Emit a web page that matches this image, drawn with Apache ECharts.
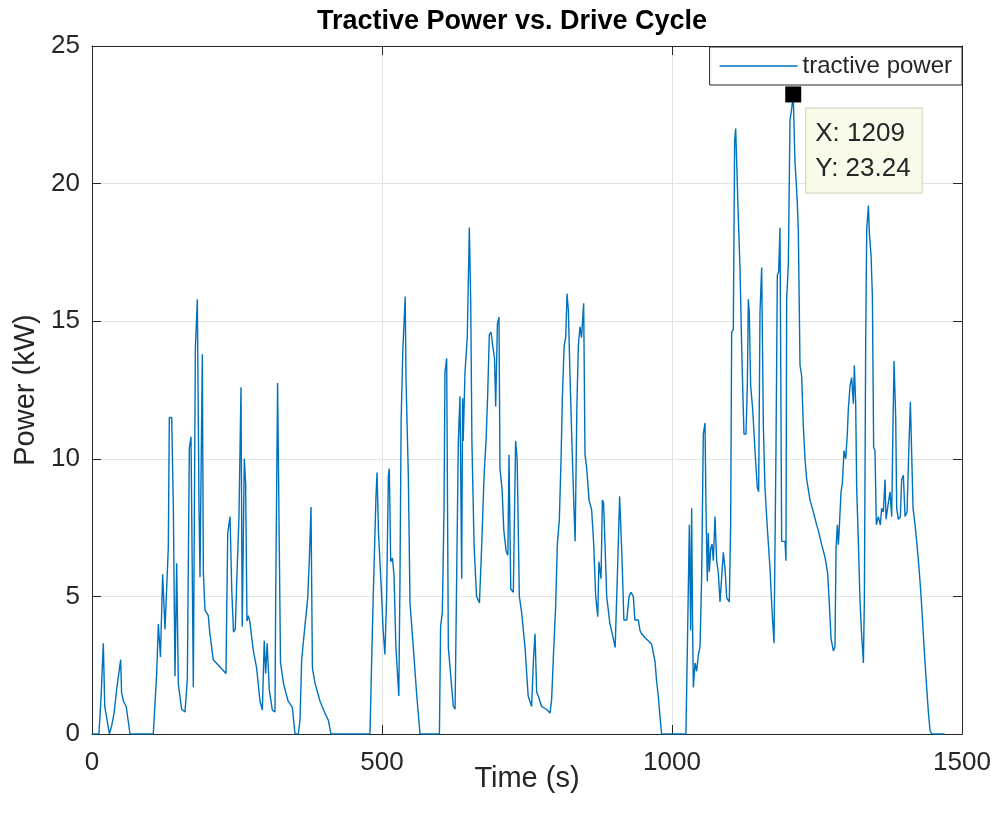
<!DOCTYPE html>
<html>
<head>
<meta charset="utf-8">
<title>Tractive Power vs. Drive Cycle</title>
<script src="https://cdn.jsdelivr.net/npm/echarts@6/dist/echarts.min.js"></script>
<style>
  html, body { margin: 0; padding: 0; background: #ffffff; }
  #chart { width: 995px; height: 818px; }
</style>
</head>
<body>
<div id="chart"></div>
<script>
// Drive-cycle time stamps (s) and the tractive power demand at each (kW)
const timeS = [
  0, 12, 16, 19.5, 22, 26, 30, 34, 38, 43, 49.4, 51, 54, 59, 65.5, 105.7,
  111.5, 114.4, 118, 121.8, 125.9, 131.6, 133.3, 137.4, 140.2, 143.1, 146, 148.9, 154.6, 160.3, 164.4, 167.8,
  170.7, 174.7, 178.2, 181.6, 184.5, 186.2, 190.2, 192, 194.8, 200.5, 203, 209, 218, 231, 234, 238,
  241, 244, 247, 249.5, 253.4, 256.9, 259, 262.6, 264.9, 267.2, 269.5, 272, 278, 283.8, 289.6, 293.7,
  297, 299.4, 302, 305.7, 310.9, 315.5, 316.7, 320, 323, 325, 330, 338, 345.4, 350, 355.7, 358.6,
  361.5, 367, 371.8, 375, 377.6, 380, 384.5, 393, 401.7, 407.5, 412,
  479.3, 482.2, 485, 489.6, 491.4, 494, 496.6, 499.4, 502, 505, 508, 511, 512.6, 515, 518, 520.7,
  524, 529, 531, 533, 536, 540, 541.4, 545.4, 548.3, 554, 560, 565.5,
  599, 601, 604, 606.9, 608.6, 611.5, 614.4, 618.4, 623, 626, 628.7, 631.6, 634.5, 637.4, 639, 640,
  643.1, 647, 650.6, 653, 655, 658.7, 663, 668, 672, 676, 679.4, 682.3, 685, 688, 691, 694,
  696, 699, 701.7, 703.4, 707, 710, 714, 717, 719, 722, 726.4, 730.4, 733, 736.8, 740.8, 746.6,
  752, 758, 761, 763.8, 766.7, 769.5, 775, 784, 789.7, 792.5, 795.4, 799.4, 802.3, 805.7, 808.6, 811,
  814, 816.7, 819, 821.3, 824, 827, 830.5, 833, 836, 838.5, 841.4, 844, 847.7, 850, 853, 857,
  861.5, 865, 868.4, 872, 874, 877.6, 880, 882, 884.5, 887.4, 893, 897, 902, 906.5, 909.7, 911.8,
  914, 917, 922, 926, 929.3, 933.3, 936, 942, 944.8, 947.7, 953.4, 959, 964.9, 970.7, 973.6, 976.4,
  979.3, 982,
  1024, 1026.4, 1029.9, 1032.2, 1033.9, 1035.6, 1036.8, 1039.7, 1042.5, 1045.4, 1048.3, 1051.1, 1054, 1056.9, 1058.6, 1060.9,
  1062.6, 1064.4, 1066.7, 1069, 1071.3, 1074.1, 1077, 1079.9, 1082.8, 1085.6, 1088.5, 1091.4, 1094.3, 1098.8, 1101.1, 1102.9,
  1105.7, 1108, 1109.8, 1111.5, 1114.4, 1117.2, 1120.1, 1121.8, 1124.1, 1127.6, 1129.9, 1131.6, 1133.3, 1135.6, 1139.1, 1143.1,
  1147.1, 1149.4, 1151.7, 1154.6, 1157.5, 1160.3, 1164.4, 1169, 1172.4, 1175.9, 1179.3, 1181.6, 1183.9, 1186.2, 1189.1, 1194.8,
  1196.5, 1197.7, 1200.6, 1203.4, 1206.3, 1209, 1212, 1214, 1216, 1217.8, 1220.7, 1223.6, 1226.4, 1229.3, 1232.2, 1238,
  1243.7, 1249.4, 1252.3, 1258, 1263.8, 1268.4, 1270.7, 1274.2, 1278.2, 1281, 1282.8, 1285.1, 1286.8, 1288, 1291.4, 1293.7,
  1296.6, 1299.5, 1302.3, 1304, 1307, 1309.8, 1312.7, 1314.4, 1316.7, 1318.4, 1321.3, 1324.2, 1327, 1330, 1331.7, 1334,
  1335.7, 1338.6, 1340.3, 1343.2, 1345.5, 1347.7, 1350, 1352.3, 1355.8, 1359.2, 1361.5, 1364.4, 1367.3, 1369, 1373, 1375.9,
  1378.8, 1381, 1382.8, 1385.7, 1387.4, 1390.3, 1393.7, 1396, 1398.9, 1401.8, 1405.2, 1408.7, 1411, 1413.3, 1415.6, 1419,
  1421.9, 1424.8, 1427.6, 1430.5, 1433.4, 1436.3, 1439.1, 1442, 1444.9, 1447.7, 1470
];

const powerKW = [
  0, 0, 1.5, 3.3, 1.0, 0.5, 0, 0.3, 0.75, 1.7, 2.7, 1.5, 1.2, 1.0, 0, 0,
  2.2, 4.0, 2.8, 5.8, 3.8, 6.8, 11.5, 11.5, 8.3, 2.1, 6.2, 1.8, 0.9, 0.8, 2.0, 10.4,
  10.8, 1.7, 14.0, 15.8, 8.3, 5.7, 13.8, 5.9, 4.5, 4.3, 3.7, 2.7, 2.5, 2.2, 7.3, 7.9,
  5.2, 3.7, 3.8, 5.5, 7.9, 12.6, 3.9, 10.0, 9.1, 4.1, 4.3, 4.1, 3.05, 2.4, 1.2, 0.87,
  3.4, 2.2, 3.3, 1.6, 0.87, 0.8, 4.9, 12.75, 12.8, 2.6, 1.85, 1.2, 0.97, 0, 0, 0.5,
  2.7, 3.9, 4.9, 6.5, 8.25, 2.4, 1.85, 1.2, 0.75, 0.5, 0,
  0, 2.7, 5.1, 8.6, 9.5, 7.3, 7.27, 5.0, 3.76, 2.89, 5.0, 9.39, 9.64, 6.26, 6.39, 5.77,
  3.14, 1.38, 5.64, 11.4, 14.0, 15.9, 12.9, 9.39, 4.76, 3.14, 1.38, 0,
  0, 3.9, 4.4, 8.14, 13.15, 13.65, 3.14, 2.14, 1.0, 0.9, 5.64, 10.65, 12.27, 5.64, 12.2, 10.65,
  13.15, 14.4, 18.4, 15.65, 10.65, 6.9, 5.0, 4.76, 6.9, 9.39, 10.65, 12.4, 14.5, 14.6, 14.1, 13.65,
  11.9, 14.9, 15.15, 9.64, 8.9, 7.4, 6.64, 6.5, 10.15, 5.27, 5.15, 10.65, 10.0, 5.0, 4.4, 3.14,
  1.38, 1.0, 2.64, 3.64, 1.51, 1.38, 1.0, 0.89, 0.76, 1.26, 2.76, 4.64, 6.9, 7.77, 9.9, 12.2,
  14.1, 14.4, 16.0, 15.4, 13.15, 10.9, 8.5, 7.0, 11.9, 14.1, 14.8, 14.4, 15.65, 10.15, 9.64, 8.5,
  8.14, 6.9, 5.0, 4.26, 6.26, 5.64, 8.5, 8.4, 6.9, 5.0, 4.0, 3.64, 3.14, 6.26, 8.64, 8.64,
  6.26, 4.14, 4.14, 5.0, 5.15, 5.0, 4.14, 4.14, 3.76, 3.64, 3.5, 3.39, 3.26, 2.64, 1.89, 1.38,
  0.63, 0,
  0, 3.0, 7.6, 3.76, 8.2, 3.76, 1.69, 2.58, 2.28, 2.87, 3.17, 5.69, 10.9, 11.3, 8.2, 5.55,
  7.3, 5.9, 6.73, 6.9, 6.3, 7.9, 6.3, 5.85, 4.8, 4.8, 6.6, 6.0, 4.95, 4.8, 7.6, 14.6,
  14.7, 21.55, 22.0, 20.8, 18.7, 16.95, 14.1, 12.66, 10.9, 10.9, 12.66, 15.8, 15.3, 12.66, 11.8, 10.3,
  8.95, 8.8, 15.3, 16.95, 11.2, 8.95, 7.47, 6.0, 4.5, 3.3, 10.4, 16.67, 16.8, 18.4, 7.0, 7.0,
  6.3, 15.8, 17.1, 22.3, 22.7, 23.24, 20.8, 20.1, 19.3, 18.3, 13.4, 13.0, 11.2, 10.0, 9.25, 8.5,
  8.07, 7.6, 7.4, 6.88, 6.43, 5.84, 4.95, 3.47, 3.02, 3.17, 6.73, 7.6, 6.88, 7.3, 8.8, 9.1,
  10.3, 10.0, 10.9, 11.8, 12.66, 12.95, 12.0, 13.4, 12.0, 8.95, 7.0, 4.8, 3.6, 2.58, 4.95, 14.4,
  18.3, 19.2, 18.2, 17.4, 15.9, 10.4, 10.3, 7.6, 7.9, 7.6, 8.2, 8.07, 9.25, 7.8, 8.4, 8.8,
  7.9, 11.2, 13.55, 11.5, 8.2, 7.8, 7.9, 9.25, 9.4, 7.9, 8.07, 10.6, 12.07, 12.07, 8.2, 7.6,
  7.0, 6.3, 5.55, 4.65, 3.6, 2.58, 1.69, 0.8, 0.13, 0, 0
];

// Axis ranges and tick spacing
const timeTicks = [0, 500, 1000, 1500];
const powerTicks = [0, 5, 10, 15, 20, 25];

const points = timeS.map((t, i) => [t, powerKW[i]]);

// Data tip on the highest sample
let peakIdx = 0;
powerKW.forEach((p, i) => { if (p > powerKW[peakIdx]) peakIdx = i; });
const peakT = timeS[peakIdx];
const peakP = powerKW[peakIdx];

const INK = '#262626';
const LINE_BLUE = '#0072BD';
const FONT = '"Liberation Sans", Arial, Helvetica, sans-serif';

const chart = echarts.init(document.getElementById('chart'), null, { renderer: 'canvas' });

// Ticks pointing into the plot box (negative length flips them inward)
const inwardTick = { show: true, inside: false, length: -9, lineStyle: { color: INK } };

// Frame axes on the top and right edges (ticks only, no labels)
const frameX = {
  type: 'value', position: 'top',
  min: timeTicks[0], max: timeTicks[timeTicks.length - 1], interval: 500,
  axisLine: { show: true, onZero: false, lineStyle: { color: INK, width: 1 } },
  axisTick: inwardTick,
  axisLabel: { show: false },
  splitLine: { show: false }
};
const frameY = {
  type: 'value', position: 'right',
  min: powerTicks[0], max: powerTicks[powerTicks.length - 1], interval: 5,
  axisLine: { show: true, onZero: false, lineStyle: { color: INK, width: 1 } },
  axisTick: inwardTick,
  axisLabel: { show: false },
  splitLine: { show: false }
};

chart.setOption({
  animation: false,
  backgroundColor: '#ffffff',
  textStyle: { fontFamily: FONT },
  grid: { left: 92, right: 33, top: 46, bottom: 84, containLabel: false },
  graphic: [{
    type: 'text',
    x: 512, y: 22,
    style: {
      text: 'Tractive Power vs. Drive Cycle',
      fontFamily: FONT, fontSize: 27, fontWeight: 'bold', fill: '#000000',
      textAlign: 'center', textVerticalAlign: 'middle'
    },
    z: 10
  }],
  legend: {
    show: true,
    data: [{ name: 'tractive power', icon: 'rect' }],
    right: 33, top: 47,
    orient: 'horizontal',
    backgroundColor: '#ffffff',
    borderColor: INK, borderWidth: 1, borderRadius: 0,
    padding: [7, 10, 7, 10],
    itemWidth: 78, itemHeight: 1.5, itemGap: 5,
    itemStyle: { color: LINE_BLUE },
    textStyle: { fontFamily: FONT, fontSize: 24, color: INK }
  },
  xAxis: [
    {
      type: 'value', position: 'bottom',
      min: timeTicks[0], max: timeTicks[timeTicks.length - 1], interval: 500,
      name: 'Time (s)', nameLocation: 'middle', nameGap: 30, nameMoveOverlap: false,
      nameTextStyle: { fontFamily: FONT, fontSize: 29, color: INK, verticalAlign: 'top' },
      axisLine: { show: true, onZero: false, lineStyle: { color: INK, width: 1 } },
      axisTick: inwardTick,
      axisLabel: { fontFamily: FONT, fontSize: 26, color: INK, margin: 16, formatter: v => String(v) },
      splitLine: { show: true, lineStyle: { color: '#e3e3e3', width: 1 } }
    },
    frameX
  ],
  yAxis: [
    {
      type: 'value', position: 'left',
      min: powerTicks[0], max: powerTicks[powerTicks.length - 1], interval: 5,
      name: 'Power (kW)', nameLocation: 'middle', nameGap: 48, nameRotate: 90,
      nameTextStyle: { fontFamily: FONT, fontSize: 29, color: INK },
      axisLine: { show: true, onZero: false, lineStyle: { color: INK, width: 1 } },
      axisTick: inwardTick,
      axisLabel: { fontFamily: FONT, fontSize: 26, color: INK, margin: 12, formatter: v => String(v) },
      splitLine: { show: true, lineStyle: { color: '#e3e3e3', width: 1 } }
    },
    frameY
  ],
  series: [{
    name: 'tractive power',
    type: 'line',
    xAxisIndex: 0, yAxisIndex: 0,
    data: points,
    symbol: 'none',
    showSymbol: false,
    smooth: false,
    lineStyle: { color: LINE_BLUE, width: 1.4 },
    itemStyle: { color: LINE_BLUE },
    markPoint: {
      symbol: 'rect',
      symbolSize: 16,
      itemStyle: { color: '#000000' },
      data: [{ coord: [peakT, peakP], value: peakP }],
      label: {
        show: true,
        position: [21, 22],
        formatter: () => 'X: ' + peakT + '\nY: ' + peakP.toFixed(2),
        fontFamily: FONT, fontSize: 26, lineHeight: 35, color: INK,
        backgroundColor: '#fafaea',
        borderColor: '#cfcfbd', borderWidth: 1,
        padding: [8, 11, 6, 9],
        align: 'left', verticalAlign: 'top'
      }
    }
  }]
});
</script>
</body>
</html>
